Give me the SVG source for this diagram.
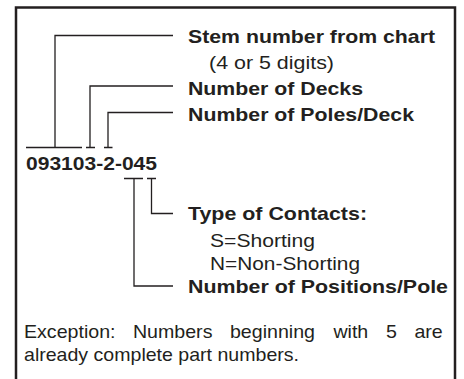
<svg xmlns="http://www.w3.org/2000/svg" width="464" height="379" viewBox="0 0 464 379">
<style>
.ln{fill:none;stroke:#231f20;stroke-width:1.3}
.b{font-family:"Liberation Sans",Arial,sans-serif;font-weight:bold;font-size:18.5px;fill:#231f20}
.r{font-family:"Liberation Sans",Arial,sans-serif;font-size:18.5px;fill:#231f20}
</style>
<rect width="464" height="379" fill="#fff"/>
<g id="frame"><path d="M16,379V7.5H455V379" fill="none" stroke="#231f20" stroke-width="2.5"/></g>
<g id="connectors">
<path class="ln" d="M55,147V35.5H173"/>
<path class="ln" d="M90,147V86H173"/>
<path class="ln" d="M108,147V112.5H173"/>
<path class="ln" d="M26,147.5H82M86,147.5H95M104,147.5H112.5"/>
<path class="ln" d="M124,178.5H143M147,178.5H156"/>
<path class="ln" d="M134,178.5V286H173"/>
<path class="ln" d="M151.5,178.5V213.5H173"/>
</g>
<g id="partnumber"><text class="b" x="26" y="170" textLength="131" lengthAdjust="spacingAndGlyphs">093103-2-045</text></g>
<g id="stem">
<text class="b" x="188" y="43" textLength="247" lengthAdjust="spacingAndGlyphs">Stem number from chart</text>
<text class="r" x="209" y="68.5" textLength="125" lengthAdjust="spacingAndGlyphs">(4 or 5 digits)</text>
</g>
<g id="decks"><text class="b" x="188" y="95" textLength="175" lengthAdjust="spacingAndGlyphs">Number of Decks</text></g>
<g id="poles"><text class="b" x="188" y="120.5" textLength="226" lengthAdjust="spacingAndGlyphs">Number of Poles/Deck</text></g>
<g id="contacts">
<text class="b" x="188" y="220" textLength="179" lengthAdjust="spacingAndGlyphs">Type of Contacts:</text>
<text class="r" x="210" y="246.5" textLength="105" lengthAdjust="spacingAndGlyphs">S=Shorting</text>
<text class="r" x="210" y="269.5" textLength="150" lengthAdjust="spacingAndGlyphs">N=Non-Shorting</text>
</g>
<g id="positions"><text class="b" x="188" y="292.5" textLength="260" lengthAdjust="spacingAndGlyphs">Number of Positions/Pole</text></g>
<g id="note">
<text class="r" transform="translate(24,338) scale(1.06,1)"><tspan x="0">Exception:</tspan><tspan x="102.8">Numbers</tspan><tspan x="194.3">beginning</tspan><tspan x="291.9">with</tspan><tspan x="341.5">5</tspan><tspan x="368.3">are</tspan></text>
<text class="r" x="24" y="360.5" textLength="275" lengthAdjust="spacingAndGlyphs">already complete part numbers.</text>
</g>
</svg>
